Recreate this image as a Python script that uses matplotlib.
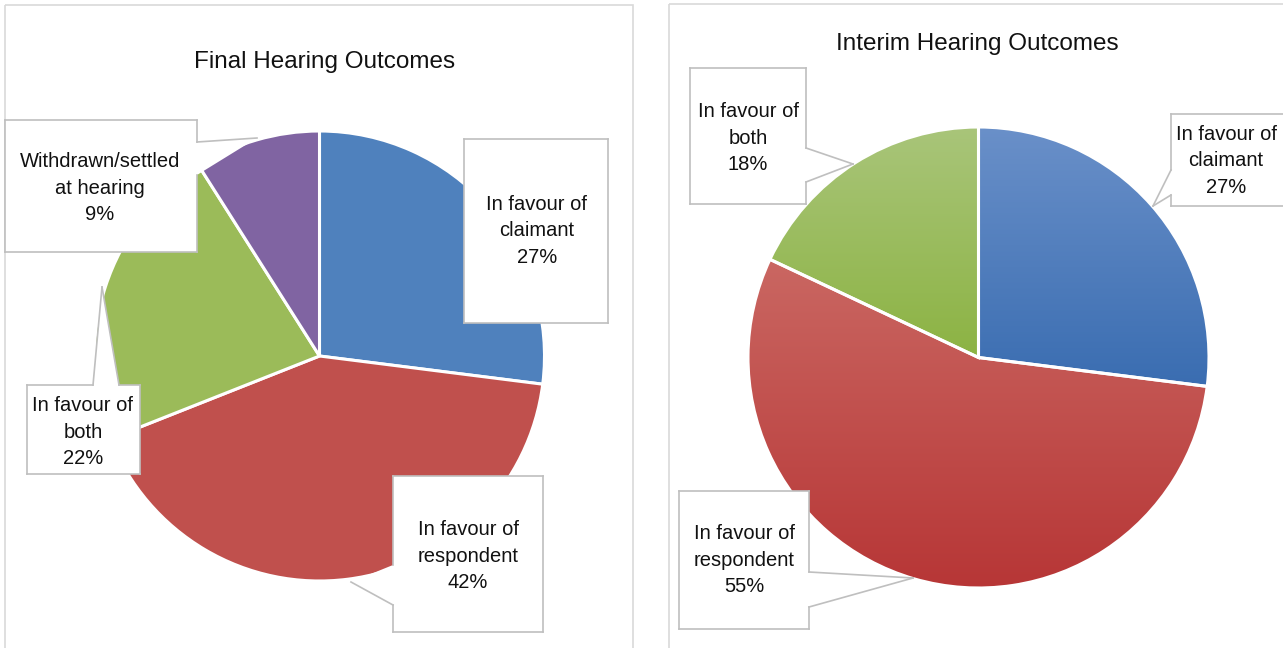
import numpy as np
import matplotlib
matplotlib.use("Agg")
import matplotlib.pyplot as plt
from matplotlib import font_manager
from matplotlib.patches import Polygon, Rectangle
from matplotlib.colors import to_rgb

# ---------------- data ----------------
final_title = "Final Hearing Outcomes"
final_labels = ["In favour of\nclaimant", "In favour of\nrespondent",
                "In favour of\nboth", "Withdrawn/settled\nat hearing"]
final_values = [27, 42, 22, 9]
final_colors = ["#4F81BD", "#C0504D", "#9BBB59", "#8064A2"]

interim_title = "Interim Hearing Outcomes"
interim_labels = ["In favour of\nclaimant", "In favour of\nrespondent", "In favour of\nboth"]
interim_values = [27, 55, 18]
interim_top_colors = ["#6A90C9", "#CA6762", "#A9C57A"]
interim_bottom_colors = ["#3A6DB1", "#B73636", "#8CB343"]

# ---------------- fonts ----------------
names = {f.name for f in font_manager.fontManager.ttflist}
if "Liberation Sans Narrow" in names:
    FAM = ["Liberation Sans Narrow", "DejaVu Sans"]
    TITLE_FS, LABEL_FS, LSP = 20, 16.5, 1.2
else:
    FAM = ["Liberation Sans", "DejaVu Sans"]
    TITLE_FS, LABEL_FS, LSP = 17.5, 14.5, 1.5
plt.rcParams["font.family"] = FAM

W, H = 1283, 648
fig = plt.figure(figsize=(W / 100, H / 100), dpi=100)
ax = fig.add_axes([0, 0, 1, 1])

EDGE = "#BFBFBF"
TXT = "#111111"

# panel borders
ax.add_patch(Rectangle((5, 5), 628, 660, fill=False, ec="#D9D9D9", lw=1.2, zorder=0))
ax.add_patch(Rectangle((669, 4), 640, 660, fill=False, ec="#D9D9D9", lw=1.2, zorder=0))

# ---------------- left pie ----------------
# y axis inverted (pixel coordinates): startangle -90 + counterclock -> visually clockwise from top
wl, _ = ax.pie(final_values, colors=final_colors, startangle=-90, counterclock=True,
               center=(319.5, 356), radius=225,
               wedgeprops=dict(edgecolor="white", linewidth=2.2))
ax.text(325, 62, final_title, ha="center", va="center", fontsize=TITLE_FS, color=TXT)

# ---------------- right pie (gradient fill) ----------------
wr, _ = ax.pie(interim_values, colors=interim_top_colors, startangle=-90, counterclock=True,
               center=(978.5, 357.5), radius=230.5,
               wedgeprops=dict(edgecolor="white", linewidth=2.2))
for w, ct, cb in zip(wr, interim_top_colors, interim_bottom_colors):
    ext = w.get_path().get_extents()
    t = np.linspace(0, 1, 256)[:, None, None]
    grad = (1 - t) * np.array(to_rgb(ct))[None, None, :] + t * np.array(to_rgb(cb))[None, None, :]
    grad = np.repeat(grad, 2, axis=1)
    im = ax.imshow(grad, extent=(ext.x0, ext.x1, ext.y1, ext.y0), origin="upper",
                   aspect="auto", interpolation="bilinear", zorder=w.get_zorder() - 0.01)
    im.set_clip_path(w)
    w.set_facecolor("none")
ax.text(977, 44, interim_title, ha="center", va="center", fontsize=TITLE_FS, color=TXT)

# ---------------- callouts ----------------
def callout(poly, center, text, hide=()):
    ax.add_patch(Polygon(poly, closed=True, fc="white", ec="none", zorder=5))
    n = len(poly)
    for i in range(n):
        if i in hide:
            continue
        p, q = poly[i], poly[(i + 1) % n]
        ax.plot([p[0], q[0]], [p[1], q[1]], color=EDGE, lw=1.2, zorder=5.5,
                solid_capstyle="projecting")
    ax.text(center[0], center[1], text, ha="center", va="center", fontsize=LABEL_FS,
            color=TXT, linespacing=LSP, zorder=6)

def lab(lbls, vals, i):
    return f"{lbls[i]}\n{vals[i]}%"

# left chart
callout([(464, 139), (608, 139), (608, 323), (464, 323)], (537, 231),
        lab(final_labels, final_values, 0))
callout([(393, 476), (543, 476), (543, 632), (393, 632), (393, 605), (351, 582), (393, 565)],
        (468, 556), lab(final_labels, final_values, 1), hide=(5,))
callout([(27, 385), (93, 385), (102, 287), (119, 385), (140, 385), (140, 474), (27, 474)],
        (83, 432), lab(final_labels, final_values, 2))
callout([(5, 120), (197, 120), (197, 142), (257, 138), (197, 175), (197, 252), (5, 252)],
        (100, 188), lab(final_labels, final_values, 3), hide=(3,))

# right chart
callout([(1171, 114), (1300, 114), (1300, 206), (1171, 206), (1171, 195), (1153, 206), (1171, 170)],
        (1226, 161), lab(interim_labels, interim_values, 0))
callout([(679, 491), (809, 491), (809, 572), (913, 578), (809, 607), (809, 629), (679, 629)],
        (744, 560), lab(interim_labels, interim_values, 1))
callout([(690, 68), (806, 68), (806, 148), (853, 164), (806, 182), (806, 204), (690, 204)],
        (748, 138), lab(interim_labels, interim_values, 2))

ax.set_xlim(0, W)
ax.set_ylim(H, 0)
ax.set_axis_off()
fig.savefig("out.png", dpi=100, facecolor="white")
